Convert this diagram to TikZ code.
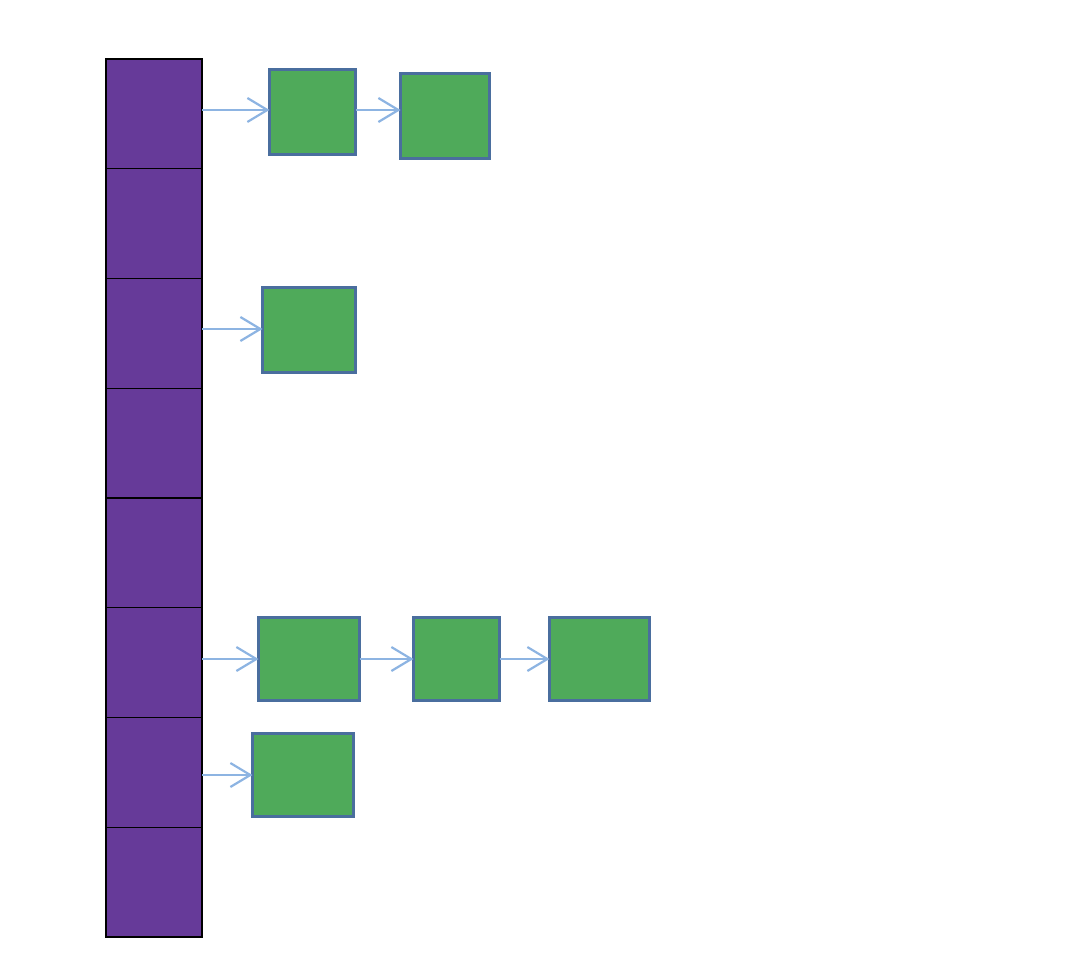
\documentclass[tikz,border=0pt]{standalone}
\usetikzlibrary{arrows.meta}
\definecolor{cellpurple}{HTML}{663A99}
\definecolor{boxgreen}{HTML}{4FAA5A}
\definecolor{boxedge}{HTML}{4A6E9E}
\definecolor{arrowblue}{HTML}{8DB4E2}
\begin{document}
\begin{tikzpicture}[x=1pt,y=-1pt,
  cell/.style={draw=black,fill=cellpurple,line width=1.4pt,minimum width=96pt,minimum height=109.75pt,inner sep=0pt,outer sep=0pt},
  gbox/.style={draw=boxedge,fill=boxgreen,line width=3pt,inner sep=0pt,outer sep=0pt},
  link/.style={draw=arrowblue,line width=2.2pt,-{Straight Barb[length=20pt,width=24pt,line width=2.2pt]}}]
\useasboundingbox (0,0) rectangle (1084,976);
\foreach \i in {1,...,8} {
  \node[cell] (c\i) at (154,{59+109.75*(\i-1)+54.875}) {};
}
\node[gbox,minimum width=86pt,minimum height=85pt] (a1) at (312.5,112) {};
\node[gbox,minimum width=89pt,minimum height=85pt] (a2) at (445,116) {};
\node[gbox,minimum width=93pt,minimum height=85pt] (b1) at (309,330) {};
\node[gbox,minimum width=101pt,minimum height=83pt] (d1) at (309,659) {};
\node[gbox,minimum width=86pt,minimum height=83pt] (d2) at (456.5,659) {};
\node[gbox,minimum width=100pt,minimum height=83pt] (d3) at (599.5,659) {};
\node[gbox,minimum width=101pt,minimum height=83pt] (e1) at (303,775) {};
\draw[link] (c1.east |- 0,110) -- (a1.west |- 0,110);
\draw[link] (a1.east |- 0,110) -- (a2.west |- 0,110);
\draw[link] (c3.east |- 0,329) -- (b1.west |- 0,329);
\draw[link] (c6.east |- 0,659) -- (d1.west);
\draw[link] (d1.east) -- (d2.west);
\draw[link] (d2.east) -- (d3.west);
\draw[link] (c7.east |- 0,775) -- (e1.west);
\end{tikzpicture}
\end{document}
